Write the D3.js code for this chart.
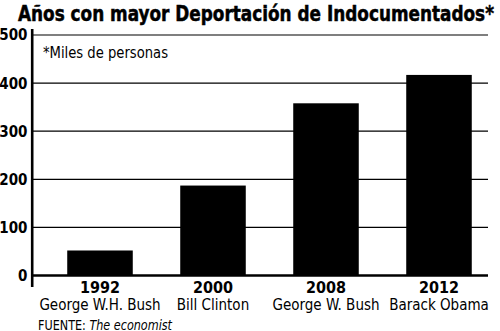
<!DOCTYPE html>
<html>
<head>
<meta charset="utf-8">
<script src="https://cdn.jsdelivr.net/npm/d3@7"></script>
<style>
  html, body { margin: 0; padding: 0; background: #fff; }
  svg { display: block; }
  text { font-family: "DejaVu Sans Condensed", "Liberation Sans Narrow", "Liberation Sans", sans-serif; fill: #000; }
</style>
</head>
<body>
<svg id="chart" width="500" height="331"></svg>
<script>
// Deportaciones por año (miles de personas)
const years = ["1992", "2000", "2008", "2012"];
const presidents = ["George W.H. Bush", "Bill Clinton", "George W. Bush", "Barack Obama"];
const deportations = [52, 187, 358, 417];
const yTicks = [0, 100, 200, 300, 400, 500];

const svg = d3.select("#chart");

const y = d3.scaleLinear().domain([0, 500]).range([275.5, 35]);
const x = d3.scaleBand().domain(years).range([43.5, 495.5]).paddingInner(0.42).paddingOuter(0.21);

const gridLeft = 33, gridRight = 488;

// Title
svg.append("text")
  .attr("x", 18).attr("y", 20.5)
  .attr("font-size", 22).attr("font-weight", "bold")
  .attr("stroke", "#000").attr("stroke-width", 0.5)
  .attr("textLength", 476).attr("lengthAdjust", "spacingAndGlyphs")
  .text("Años con mayor Deportación de Indocumentados*");

// Gridlines
svg.append("g").selectAll("line")
  .data(yTicks.filter(d => d > 0))
  .join("line")
  .attr("x1", gridLeft).attr("x2", gridRight)
  .attr("y1", d => y(d)).attr("y2", d => y(d))
  .attr("stroke", "#000").attr("stroke-width", 1.2);

// Bars
svg.append("g").selectAll("rect")
  .data(years)
  .join("rect")
  .attr("x", d => x(d))
  .attr("width", x.bandwidth())
  .attr("y", (d, i) => y(deportations[i]))
  .attr("height", (d, i) => y(0) - y(deportations[i]))
  .attr("fill", "#000");

// Baseline
svg.append("line")
  .attr("x1", gridLeft).attr("x2", gridRight)
  .attr("y1", y(0)).attr("y2", y(0))
  .attr("stroke", "#000").attr("stroke-width", 2.6);

// Vertical axis line
svg.append("line")
  .attr("x1", 32.2).attr("x2", 32.2)
  .attr("y1", 29).attr("y2", 287)
  .attr("stroke", "#000").attr("stroke-width", 2.6);

// Y tick labels
svg.append("g").selectAll("text")
  .data(yTicks)
  .join("text")
  .attr("x", 27.5).attr("y", d => y(d))
  .attr("dy", "0.36em")
  .attr("text-anchor", "end")
  .attr("font-size", 15).attr("font-weight", "bold")
  .text(d => d);

// Unit note
svg.append("text")
  .attr("x", 43).attr("y", 58)
  .attr("font-size", 16)
  .attr("textLength", 125).attr("lengthAdjust", "spacingAndGlyphs")
  .text("*Miles de personas");

// Year labels
svg.append("g").selectAll("text")
  .data(years)
  .join("text")
  .attr("x", d => x(d) + x.bandwidth() / 2)
  .attr("y", 293)
  .attr("text-anchor", "middle")
  .attr("font-size", 16).attr("font-weight", "bold")
  .text(d => d);

// President labels
svg.append("g").selectAll("text")
  .data(presidents)
  .join("text")
  .attr("x", (d, i) => x(years[i]) + x.bandwidth() / 2)
  .attr("y", 310)
  .attr("text-anchor", "middle")
  .attr("font-size", 15)
  .text(d => d);

// Source
const src = svg.append("text")
  .attr("x", 38).attr("y", 330)
  .attr("font-size", 13.5)
  .attr("textLength", 134).attr("lengthAdjust", "spacingAndGlyphs");
src.append("tspan").text("FUENTE: ");
src.append("tspan").attr("font-style", "italic").text("The economist");
</script>
</body>
</html>
